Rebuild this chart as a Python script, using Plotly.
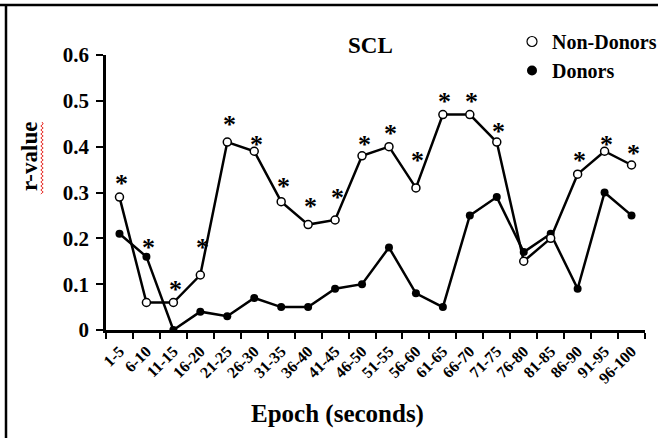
import plotly.graph_objects as go

epochs = ["1-5", "6-10", "11-15", "16-20", "21-25", "26-30", "31-35", "36-40",
          "41-45", "46-50", "51-55", "56-60", "61-65", "66-70", "71-75",
          "76-80", "81-85", "86-90", "91-95", "96-100"]
non_donors = [0.29, 0.06, 0.06, 0.12, 0.41, 0.39, 0.28, 0.23, 0.24, 0.38,
              0.40, 0.31, 0.47, 0.47, 0.41, 0.15, 0.20, 0.34, 0.39, 0.36]
donors = [0.21, 0.16, 0.00, 0.04, 0.03, 0.07, 0.05, 0.05, 0.09, 0.10,
          0.18, 0.08, 0.05, 0.25, 0.29, 0.17, 0.21, 0.09, 0.30, 0.25]
# height of the significance asterisk (None = not significant)
star_y = [0.33, 0.19, 0.10, 0.19, 0.46, 0.415, 0.325, 0.28, 0.30, 0.415,
          0.44, 0.38, 0.51, 0.51, 0.445, None, None, 0.38, 0.415, 0.395]

SERIF = "Liberation Serif"

# plot area in pixels
L, R, T, B = 106, 645, 55, 330
W, H = 658, 438


def px(x):
    return (x - L) / (R - L)


def py(y):
    return (B - y) / (B - T)


fig = go.Figure()

fig.add_trace(go.Scatter(
    x=epochs, y=donors, mode="lines+markers", name="Donors", showlegend=False,
    line=dict(color="black", width=2.5),
    marker=dict(symbol="circle", size=8, color="black"),
))
fig.add_trace(go.Scatter(
    x=epochs, y=non_donors, mode="lines+markers", name="Non-Donors", showlegend=False,
    line=dict(color="black", width=2.5),
    marker=dict(symbol="circle", size=8, color="white", line=dict(color="black", width=1.5)),
))

# legend-only entries (markers only)
fig.add_trace(go.Scatter(
    x=[None], y=[None], mode="markers", name="Non-Donors",
    marker=dict(symbol="circle", size=10, color="white", line=dict(color="black", width=1.2)),
))
fig.add_trace(go.Scatter(
    x=[None], y=[None], mode="markers", name="Donors",
    marker=dict(symbol="circle", size=10, color="black"),
))

annotations = []
for cat, sy in zip(epochs, star_y):
    if sy is None:
        continue
    annotations.append(dict(
        x=cat, y=sy, xref="x", yref="y", text="*", showarrow=False,
        xshift=2, yshift=-5,
        font=dict(family=SERIF, size=26, color="black", weight="bold"),
    ))

annotations += [
    dict(x=px(370), y=py(45), xref="paper", yref="paper", text="<b>SCL</b>",
         showarrow=False, xanchor="center", yanchor="middle",
         font=dict(family=SERIF, size=23, color="black")),
    dict(x=px(337), y=py(414), xref="paper", yref="paper", text="<b>Epoch (seconds)</b>",
         showarrow=False, xanchor="center", yanchor="middle",
         font=dict(family=SERIF, size=25, color="black")),
    dict(x=px(29), y=py(157), xref="paper", yref="paper", text="<b>r-value</b>",
         showarrow=False, xanchor="center", yanchor="middle", textangle=-90,
         font=dict(family=SERIF, size=23, color="black")),
]

# red wavy spell-check underline next to "r-value"
zig = "M %f,%f" % (px(42), py(122))
yy = 122
k = 0
while yy < 193:
    yy += 2
    k += 1
    zig += " L %f,%f" % (px(42 + (1.2 if k % 2 else -1.2)), py(yy))

shapes = [
    dict(type="line", xref="paper", yref="paper", x0=px(0), x1=px(W), y0=py(5), y1=py(5),
         line=dict(color="black", width=2.5)),
    dict(type="line", xref="paper", yref="paper", x0=px(6), x1=px(6), y0=py(4), y1=py(H),
         line=dict(color="black", width=2.5)),
    dict(type="path", xref="paper", yref="paper", path=zig,
         line=dict(color="#e8302a", width=1)),
]

fig.update_layout(
    width=W, height=H,
    margin=dict(l=L, r=W - R, t=T, b=H - B, autoexpand=False),
    paper_bgcolor="white", plot_bgcolor="white",
    showlegend=True,
    legend=dict(
        x=512 / W, y=1 - 22 / H, xanchor="left", yanchor="top",
        xref="container", yref="container",
        font=dict(family=SERIF, size=20, color="black", weight="bold"),
        itemwidth=30, tracegroupgap=0, bgcolor="rgba(0,0,0,0)",
    ),
    annotations=annotations,
    shapes=shapes,
    xaxis=dict(
        type="category", range=[-0.5, 19.5], tickson="boundaries",
        showline=True, linecolor="black", linewidth=2.5,
        ticks="outside", ticklen=6, tickwidth=2, tickcolor="black",
        showgrid=False, zeroline=False, tickangle=-45, automargin=False,
        ticklabelstandoff=3,
        tickfont=dict(family=SERIF, size=16, color="black", weight="bold"),
    ),
    yaxis=dict(
        range=[0, 0.6], dtick=0.1, tick0=0,
        showline=True, linecolor="black", linewidth=2.5,
        ticks="outside", ticklen=7, tickwidth=2, tickcolor="black",
        showgrid=False, zeroline=False, ticklabelstandoff=3, automargin=False,
        tickfont=dict(family=SERIF, size=21, color="black", weight="bold"),
    ),
)

fig.write_html("out.html", config={"displayModeBar": False},
               post_script="document.body.style.margin='0';document.body.style.overflow='hidden';")
